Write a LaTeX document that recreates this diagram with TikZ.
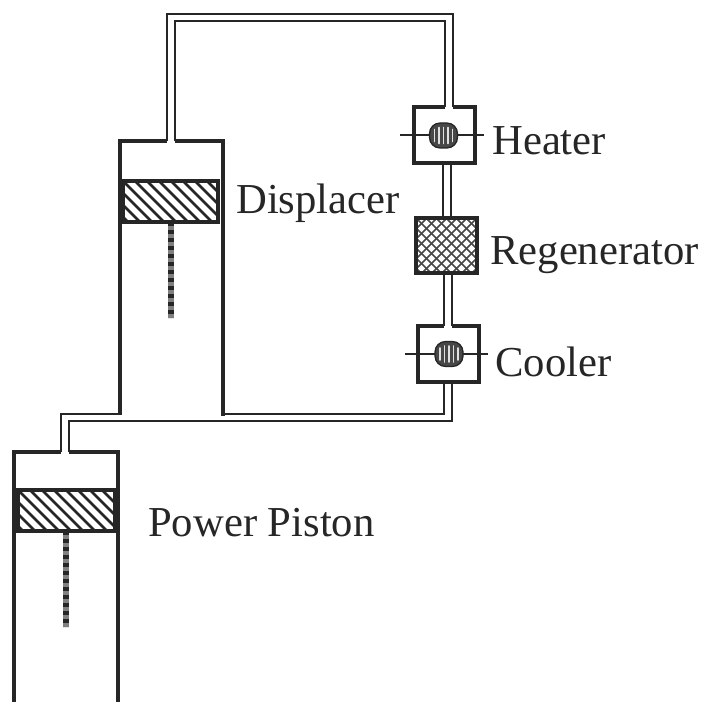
\documentclass[tikz,border=0pt]{standalone}
\usepackage{fontspec}
\setmainfont{Liberation Serif}
\definecolor{ink}{HTML}{262626}
\begin{document}
\begin{tikzpicture}[x=0.75pt,y=-0.75pt,
  wall/.style={draw=ink,line width=2.9pt,line join=miter},
  duct/.style={draw=ink,line width=2.1pt,line join=miter},
  label/.style={anchor=base west,inner sep=0pt,font=\fontsize{32}{32}\selectfont,text=ink},
  hatchline/.style={draw=ink,line width=1.9pt},
  meshline/.style={draw=ink!85,line width=1.3pt},
  coil/.style={draw=ink,line width=1pt,fill=ink!85,rounded corners=8pt},
  stripe/.style={draw=black!12,line width=1.2pt,line cap=round}]
\useasboundingbox (0,0) rectangle (707,702);
% ducts
\draw[duct] (167,141) -- (167,14) -- (453,14) -- (453,107);
\draw[duct] (175,141) -- (175,21) -- (445,21) -- (445,107);
\draw[duct] (443,163) -- (443,218) (451,163) -- (451,218);
\draw[duct] (444,273) -- (444,326) (452,273) -- (452,326);
\draw[duct] (444,382) -- (444,414) -- (223,414);
\draw[duct] (452,382) -- (452,421) -- (69,421) -- (69,452);
\draw[duct] (120,414) -- (61,414) -- (61,452);
% displacer cylinder
\draw[wall] (120,415) -- (120,141) -- (167,141);
\draw[wall] (175,141) -- (223,141) -- (223,416);
% power cylinder
\draw[wall] (14,702) -- (14,452) -- (61,452);
\draw[wall] (69,452) -- (118,452) -- (118,702);
% pistons
\foreach \xa/\ya/\xb/\yb/\rx/\ry in {123/181/218/222/171/318, 18/490/115/531/66/627}{
  \begin{scope}
    \clip (\xa,\ya) rectangle (\xb,\yb);
    \foreach \s in {-60,-48,...,160}
      \draw[hatchline] (\xa+\s,\ya) -- ++(60,60);
  \end{scope}
  \draw[wall] (\xa,\ya) rectangle (\xb,\yb);
  \draw[draw=black!50,line width=4.4pt] (\rx,\yb) -- (\rx,\ry);
  \draw[draw=ink,line width=4.4pt,dash pattern=on 3.2pt off 2.8pt] (\rx,\yb) -- (\rx,\ry);
}
% heater
\draw[wall] (445,107) -- (414,107) -- (414,163) -- (475,163) -- (475,107) -- (453,107);
% cooler
\draw[wall] (444,326) -- (418,326) -- (418,382) -- (479,382) -- (479,326) -- (452,326);
% regenerator
\begin{scope}
  \clip (416,218) rectangle (477,273);
  \foreach \s in {-60,-50,...,70}{
    \draw[meshline] (416+\s,218) -- ++(60,60);
    \draw[meshline] (477-\s,218) -- ++(-60,60);
  }
\end{scope}
\draw[wall] (416,218) rectangle (477,273);
% coils
\foreach \cx/\cy/\xl/\xr in {443.5/135.5/400/484, 449/354/405/488}{
  \draw[draw=ink,line width=1.5pt] (\xl,\cy) -- (\xr,\cy);
  \draw[coil] (\cx-14,\cy-12.5) rectangle (\cx+14,\cy+12.5);
  \foreach \d/\h in {-9/6,-4.5/8,0/8,4.5/8,9/6}
    \draw[stripe] (\cx+\d,\cy-\h) -- (\cx+\d,\cy+\h);
}
% labels
\node[label] (heater) at (492,155) {Heater};
\node[label] (displacer) at (236,214) {Displacer};
\node[label] (regen) at (490,265) {Regenerator};
\node[label] (cooler) at (495,377) {Cooler};
\node[label] (power) at (148,536) {Power Piston};
\end{tikzpicture}
\end{document}
